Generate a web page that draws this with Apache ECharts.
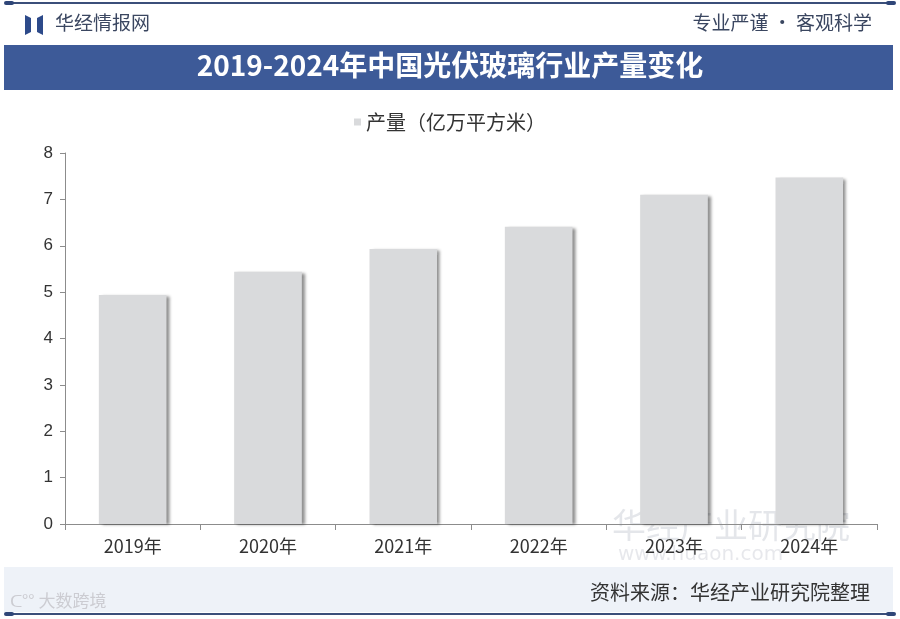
<!DOCTYPE html>
<html>
<head>
<meta charset="utf-8">
<script src="https://cdn.jsdelivr.net/npm/echarts@6/dist/echarts.min.js"></script>
<style>
html,body{margin:0;padding:0;background:#fff;}
#main{width:900px;height:619px;}
</style>
</head>
<body>
<div id="main"></div>
<script>
var categories = ['2019年','2020年','2021年','2022年','2023年','2024年'];
var seriesName = '产量（亿万平方米）';
var production = [4.94, 5.44, 5.93, 6.41, 7.10, 7.47];
var yTicks = [0, 1, 2, 3, 4, 5, 6, 7, 8];

var chart = echarts.init(document.getElementById('main'));
var cjk = '"Noto Sans CJK SC", "Noto Sans", sans-serif';
var navy = '#3d5a98';

chart.setOption({
  backgroundColor: '#ffffff',
  animation: false,
  textStyle: { fontFamily: cjk },
  graphic: [
    { type: 'rect', shape: { x: 6, y: 2, width: 888, height: 2 }, style: { fill: '#3b4f7a' } },
    { type: 'rect', shape: { x: 4, y: 1, width: 10, height: 4, r: 2 }, style: { fill: '#2f4678' } },
    { type: 'rect', shape: { x: 886, y: 1, width: 10, height: 4, r: 2 }, style: { fill: '#2f4678' } },
    { type: 'polygon', shape: { points: [[25,15],[31,18],[31,32],[25,35]] }, style: { fill: '#2d4a8a' } },
    { type: 'polygon', shape: { points: [[43,15],[37,18],[37,32],[43,35]] }, style: { fill: '#2d4a8a' } },
    { type: 'text', left: 55, top: 13, style: { text: '华经情报网', font: '19px ' + cjk, fill: '#3a4660' } },
    { type: 'text', right: 28, top: 13, style: { text: '专业严谨 • 客观科学', font: '19px ' + cjk, fill: '#3a4660' } },
    { type: 'rect', shape: { x: 4, y: 45, width: 889, height: 45 }, style: { fill: navy } },
    { type: 'text', left: 'center', top: 51, style: { text: '2019-2024年中国光伏玻璃行业产量变化', font: 'bold 28px ' + cjk, fill: '#ffffff' } },
    { type: 'text', left: 612, top: 508, z: 0, style: { text: '华经产业研究院', font: '34px ' + cjk, fill: 'rgba(120,130,150,0.2)' } },
    { type: 'text', left: 618, top: 545, z: 0, style: { text: 'www.huaon.com', font: '20px "DejaVu Sans", sans-serif', fill: 'rgba(120,130,150,0.18)' } },
    { type: 'rect', shape: { x: 4, y: 567, width: 889, height: 45 }, style: { fill: '#eef2f8' } },
    { type: 'text', right: 30, top: 582, style: { text: '资料来源：华经产业研究院整理', font: '20px ' + cjk, fill: '#333333' } },
    { type: 'text', left: 10, top: 592, style: { text: 'ᑕ°° 大数跨境', font: '17px ' + cjk, fill: 'rgba(200,200,205,0.9)' } },
    { type: 'rect', shape: { x: 6, y: 613, width: 888, height: 2 }, style: { fill: '#3b4f7a' } },
    { type: 'rect', shape: { x: 4, y: 612, width: 10, height: 4, r: 2 }, style: { fill: '#2f4678' } },
    { type: 'rect', shape: { x: 886, y: 612, width: 10, height: 4, r: 2 }, style: { fill: '#2f4678' } }
  ],
  legend: {
    top: 107,
    left: 'center',
    icon: 'rect',
    itemWidth: 7,
    itemHeight: 7,
    itemGap: 6,
    data: [seriesName],
    textStyle: { fontSize: 20, color: '#333333', fontFamily: cjk }
  },
  grid: { left: 65, right: 23, top: 153, bottom: 95, containLabel: false },
  xAxis: {
    type: 'category',
    data: categories,
    axisLine: { lineStyle: { color: '#8c8c8c', width: 1 } },
    axisTick: { show: true, alignWithLabel: false, length: 6, lineStyle: { color: '#8c8c8c' } },
    axisLabel: { color: '#333333', fontSize: 18, margin: 13, fontFamily: cjk }
  },
  yAxis: {
    type: 'value',
    min: yTicks[0],
    max: yTicks[yTicks.length - 1],
    interval: 1,
    axisLine: { show: true, lineStyle: { color: '#8c8c8c', width: 1 } },
    axisTick: { show: true, length: 5, lineStyle: { color: '#8c8c8c' } },
    splitLine: { show: false },
    axisLabel: { color: '#333333', fontSize: 17, margin: 12, fontFamily: '"Liberation Sans", Arial, sans-serif' }
  },
  series: [{
    name: seriesName,
    type: 'bar',
    data: production,
    barWidth: '50%',
    itemStyle: {
      color: '#d9dadc',
      shadowColor: 'rgba(0,0,0,0.45)',
      shadowBlur: 3,
      shadowOffsetX: 3,
      shadowOffsetY: 1
    }
  }]
});
</script>
</body>
</html>
